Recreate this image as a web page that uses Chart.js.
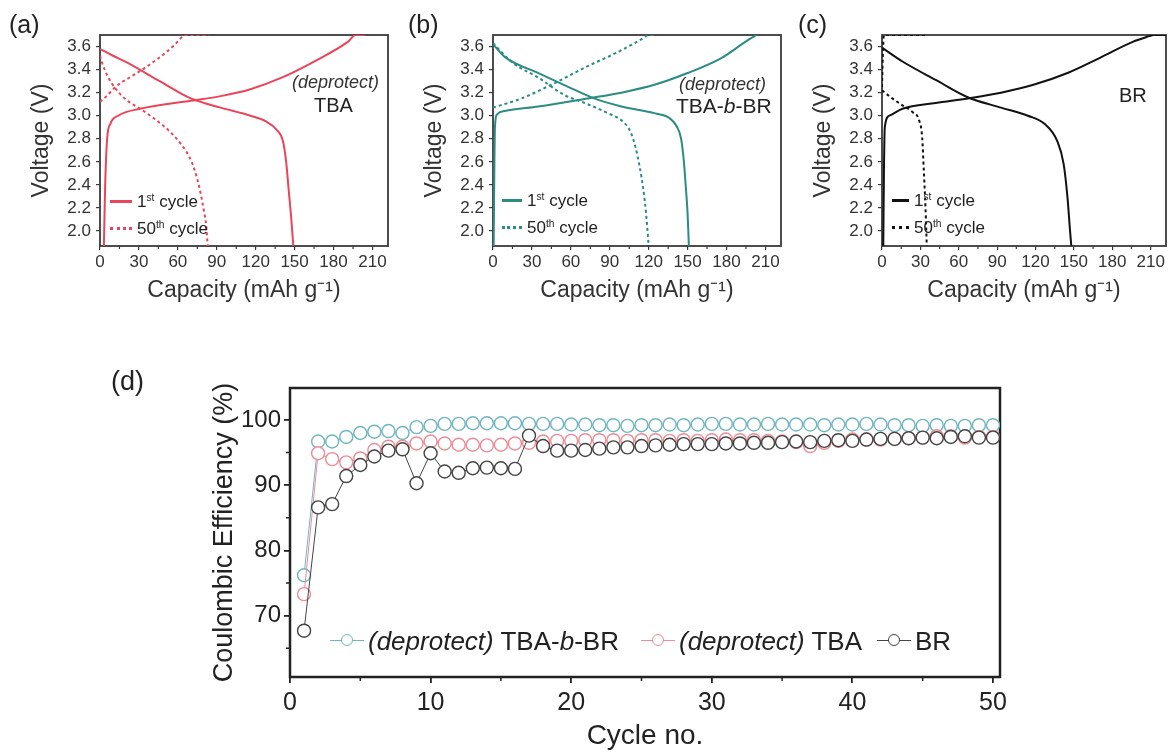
<!DOCTYPE html>
<html>
<head>
<meta charset="utf-8">
<script src="https://cdn.jsdelivr.net/npm/chart.js@4.4.0/dist/chart.umd.min.js"></script>
<style>
  body { margin: 0; background: #fff; width: 1170px; height: 753px; position: relative; overflow: hidden;
         font-family: "Liberation Sans", Arial, sans-serif; color: #222; }
  .box { position: absolute; }
  .lbl { position: absolute; white-space: nowrap; line-height: 1; }
  .lbl sup { font-size: 60%; vertical-align: 0.6em; }
  .seg { display: inline-block; width: 22px; height: 0; vertical-align: middle; margin-right: 5px; position: relative; top: -1px; }
  .mk { display: inline-block; position: relative; width: 34px; height: 14px; vertical-align: middle; margin-right: 4px; top: -2px; }
  .mk::before { content: ""; position: absolute; left: 0; right: 0; top: 6px; height: 1px; background: var(--c); }
  .mk::after { content: ""; position: absolute; left: 11px; top: 0; width: 10px; height: 10px; border: 1.5px solid var(--c);
               border-radius: 50%; background: #fff; }
</style>
</head>
<body>

<div class="box" style="left:0;top:0;width:392px;height:310px"><canvas id="chartA"></canvas></div>
<div class="box" style="left:393px;top:0;width:392px;height:310px"><canvas id="chartB"></canvas></div>
<div class="box" style="left:782px;top:0;width:388px;height:310px"><canvas id="chartC"></canvas></div>
<div class="box" style="left:0;top:360px;width:1170px;height:393px"><canvas id="chartD"></canvas></div>

<!-- panel letters -->
<div class="lbl" style="left:9px;top:12px;font-size:25px">(a)</div>
<div class="lbl" style="left:408px;top:12px;font-size:25px">(b)</div>
<div class="lbl" style="left:798px;top:12px;font-size:25px">(c)</div>
<div class="lbl" style="left:111px;top:368px;font-size:27px">(d)</div>

<!-- sample names -->
<div class="lbl" style="left:292px;top:73px;font-size:18px;font-style:italic;color:#333">(deprotect)</div>
<div class="lbl" style="left:314px;top:95px;font-size:20px">TBA</div>
<div class="lbl" style="left:679px;top:75px;font-size:18px;font-style:italic;color:#333">(deprotect)</div>
<div class="lbl" style="left:676px;top:95px;font-size:21px">TBA-<i>b</i>-BR</div>
<div class="lbl" style="left:1119px;top:85px;font-size:20px">BR</div>

<!-- cycle legends -->
<div class="lbl" style="left:110px;top:193px;font-size:17px"><span class="seg" style="border-top:3px solid #e8455a"></span>1<sup>st</sup> cycle</div>
<div class="lbl" style="left:110px;top:220px;font-size:17px"><span class="seg" style="border-top:3px dotted #e8455a"></span>50<sup>th</sup> cycle</div>
<div class="lbl" style="left:502px;top:192px;font-size:17px"><span class="seg" style="width:20px;border-top:3px solid #2a8c82"></span>1<sup>st</sup> cycle</div>
<div class="lbl" style="left:502px;top:219px;font-size:17px"><span class="seg" style="width:20px;border-top:3px dotted #2a8c82"></span>50<sup>th</sup> cycle</div>
<div class="lbl" style="left:892px;top:192px;font-size:17px"><span class="seg" style="width:17px;border-top:3px solid #111"></span>1<sup>st</sup> cycle</div>
<div class="lbl" style="left:892px;top:219px;font-size:17px"><span class="seg" style="width:17px;border-top:3px dotted #111"></span>50<sup>th</sup> cycle</div>

<!-- efficiency legend -->
<div class="lbl" style="left:330px;top:628px;font-size:26px"><span class="mk" style="--c:#6fb6c0"></span><i>(deprotect)</i> TBA-<i>b</i>-BR</div>
<div class="lbl" style="left:641px;top:628px;font-size:26px"><span class="mk" style="--c:#ec8c95"></span><i>(deprotect)</i> TBA</div>
<div class="lbl" style="left:877px;top:628px;font-size:26px"><span class="mk" style="--c:#444"></span>BR</div>

<script>
// voltage profiles, [capacity mAh/g, voltage V]
const tbaCharge1 = [[3,1.87],[4,2.4],[5.5,2.8],[8,2.93],[14,3.0],[31,3.06],[70,3.13],[93,3.17],[116,3.23],[140,3.33],[165,3.47],[191,3.64],[197,3.70],[204,3.70]];
const tbaDischarge1 = [[0,3.58],[10,3.52],[21,3.46],[46,3.30],[70,3.15],[93,3.07],[116,3.0],[128,2.95],[136,2.88],[141,2.78],[143.5,2.6],[145.5,2.35],[147.5,2.1],[149,1.87]];
const tbaCharge50 = [[0,3.12],[5,3.17],[13,3.26],[24,3.34],[34,3.41],[44,3.49],[52,3.56],[58,3.62],[63,3.68],[66,3.70],[84,3.70]];
const tbaDischarge50 = [[0,3.52],[1.3,3.47],[6,3.34],[11.6,3.24],[20,3.14],[31,3.06],[40,2.99],[47,2.93],[55,2.85],[62,2.76],[67,2.68],[71,2.59],[74.5,2.47],[77.5,2.33],[80,2.18],[82,2.03],[83,1.87]];

const tbbCharge1 = [[0.5,1.87],[1,2.5],[1.5,2.9],[3,3.01],[9,3.04],[35,3.08],[73,3.15],[99,3.20],[125,3.27],[150,3.37],[176,3.50],[197,3.66],[203,3.70]];
const tbbDischarge1 = [[0,3.62],[9,3.51],[35,3.37],[60,3.24],[78,3.15],[99,3.08],[125,3.02],[136,2.98],[142,2.9],[145,2.8],[147,2.62],[148.5,2.4],[150,2.15],[151,1.87]];
const tbbCharge50 = [[0,3.07],[22,3.15],[47,3.28],[73,3.43],[94,3.54],[114,3.66],[120,3.70],[124,3.70]];
const tbbDischarge50 = [[0,3.63],[15,3.46],[35,3.33],[55,3.18],[73,3.10],[89,3.02],[100,2.95],[106,2.86],[110,2.72],[113,2.56],[116,2.35],[118,2.15],[120,1.87]];

const brCharge1 = [[1,1.87],[1.5,2.5],[2.2,2.9],[5.7,3.0],[16,3.06],[42,3.11],[67,3.15],[93,3.20],[119,3.27],[145,3.37],[170,3.50],[196,3.64],[209,3.69],[212,3.70],[222,3.70]];
const brDischarge1 = [[0,3.59],[16,3.47],[42,3.31],[67,3.16],[93,3.07],[114,3.0],[127,2.93],[137,2.78],[142,2.58],[145,2.29],[147,2.0],[148,1.87]];
const brCharge50 = [[0,3.25],[0.6,3.5],[1.5,3.70],[34,3.70]];
const brDischarge50 = [[0,3.22],[8,3.15],[16,3.09],[24,3.03],[29,2.96],[31.4,2.81],[32.7,2.52],[34,2.2],[35,1.87]];

const capMinor = [15, 45, 75, 105, 135, 165, 195];

// coulombic efficiency (%) for cycles 1..50
const cycles = Array.from({ length: 50 }, (_, i) => i + 1);
const ceTbbBr = [76.2, 96.7, 96.7, 97.4, 98.0, 98.2, 98.3, 98.0, 98.9, 99.1, 99.4, 99.4, 99.5, 99.5, 99.5, 99.5, 99.4, 99.4, 99.4, 99.3,
                 99.3, 99.2, 99.2, 99.1, 99.2, 99.2, 99.3, 99.2, 99.3, 99.4, 99.4, 99.3, 99.3, 99.4, 99.3, 99.3, 99.3, 99.2, 99.3, 99.3,
                 99.4, 99.3, 99.2, 99.2, 99.1, 99.2, 99.1, 99.1, 99.2, 99.2];
const ceTba = [73.3, 94.9, 94.0, 93.5, 94.1, 95.4, 95.9, 95.9, 96.4, 96.7, 96.4, 96.2, 96.2, 96.1, 96.2, 96.4, 96.5, 96.7, 96.8, 96.8,
               96.9, 96.9, 96.9, 96.8, 96.9, 96.9, 96.8, 96.9, 96.8, 96.9, 97.0, 96.9, 96.9, 96.8, 96.7, 96.6, 96.0, 96.5, 96.8, 97.0,
               97.0, 97.0, 97.1, 97.2, 97.3, 97.5, 97.5, 97.3, 97.4, 97.4];
const ceBr = [67.7, 86.6, 87.1, 91.4, 93.1, 94.4, 95.3, 95.5, 90.3, 94.9, 92.1, 91.9, 92.6, 92.7, 92.6, 92.5, 97.6, 96.0, 95.3, 95.3,
              95.4, 95.6, 95.8, 95.8, 96.0, 96.1, 96.2, 96.3, 96.3, 96.3, 96.4, 96.4, 96.5, 96.5, 96.6, 96.7, 96.6, 96.8, 96.9, 96.8,
              97.0, 97.1, 97.1, 97.2, 97.3, 97.2, 97.4, 97.5, 97.3, 97.3];
const cycleMinor = [5, 15, 25, 35, 45];
const ceMinor = [65, 75, 85, 95];

const FONT = '"Liberation Sans", Arial, sans-serif';

// box round the plot area (under the curves) plus the small unlabeled ticks
const frameAndMinor = {
  id: 'frameAndMinor',
  beforeDatasetsDraw(chart, args, opts) {
    const { ctx, chartArea: a, scales: { x, y } } = chart;
    ctx.save();
    ctx.strokeStyle = opts.color;
    ctx.lineWidth = opts.minorWidth;
    ctx.beginPath();
    (opts.xMinor || []).forEach(v => {
      const px = x.getPixelForValue(v);
      ctx.moveTo(px, a.bottom); ctx.lineTo(px, a.bottom + opts.minorLen);
    });
    (opts.yMinor || []).forEach(v => {
      const py = y.getPixelForValue(v);
      ctx.moveTo(a.left, py); ctx.lineTo(a.left - opts.minorLen, py);
    });
    ctx.stroke();
    ctx.lineWidth = opts.width;
    ctx.strokeRect(a.left, a.top, a.right - a.left, a.bottom - a.top);
    ctx.restore();
  }
};

const pts = arr => arr.map(([x, y]) => ({ x, y }));

function profileChart(id, color, charge1, discharge1, charge50, discharge50) {
  const line = (data, dashed) => ({
    data: pts(data),
    showLine: true,
    borderColor: color,
    borderWidth: 2,
    borderDash: dashed ? [3, 3] : [],
    pointRadius: 0,
    cubicInterpolationMode: 'monotone'
  });
  new Chart(document.getElementById(id), {
    type: 'scatter',
    data: { datasets: [line(charge1), line(discharge1), line(charge50, true), line(discharge50, true)] },
    options: {
      responsive: true,
      maintainAspectRatio: false,
      animation: false,
      layout: { padding: { left: 28, top: 35, right: 4, bottom: 0 } },
      plugins: {
        legend: { display: false },
        tooltip: { enabled: false },
        frameAndMinor: { color: '#3a3a3a', width: 1.8, minorWidth: 1.2, minorLen: 3, xMinor: capMinor }
      },
      scales: {
        x: {
          type: 'linear', min: 0, max: 222,
          afterFit(s) { s.height = 64; },
          border: { display: false },
          grid: { drawOnChartArea: false, tickLength: 4, color: '#3a3a3a', lineWidth: 1.2 },
          ticks: { stepSize: 30, includeBounds: false, padding: 2, maxRotation: 0, color: '#333', font: { family: FONT, size: 17 } },
          title: { display: true, text: 'Capacity (mAh g\u207B\u00B9)', color: '#333', padding: { top: 0, bottom: 6 }, font: { family: FONT, size: 23 } }
        },
        y: {
          type: 'linear', min: 1.87, max: 3.70,
          afterFit(s) { s.width = 72; },
          border: { display: false },
          grid: { drawOnChartArea: false, tickLength: 4, color: '#3a3a3a', lineWidth: 1.2 },
          ticks: { stepSize: 0.2, includeBounds: false, padding: 5, color: '#333', font: { family: FONT, size: 17 },
                   callback: v => v.toFixed(1) },
          title: { display: true, text: 'Voltage (V)', color: '#333', padding: { top: 0, bottom: 0 }, font: { family: FONT, size: 23 } }
        }
      }
    },
    plugins: [frameAndMinor]
  });
}

profileChart('chartA', '#e8455a', tbaCharge1, tbaDischarge1, tbaCharge50, tbaDischarge50);
profileChart('chartB', '#2a8c82', tbbCharge1, tbbDischarge1, tbbCharge50, tbbDischarge50);
profileChart('chartC', '#111111', brCharge1, brDischarge1, brCharge50, brDischarge50);

// efficiency vs cycle number
const ceSet = (values, color, order) => ({
  data: cycles.map((c, i) => ({ x: c, y: values[i] })),
  showLine: true,
  borderColor: color,
  borderWidth: 1,
  pointRadius: 6.5,
  pointBorderWidth: 1.4,
  pointBorderColor: color,
  pointBackgroundColor: '#fff',
  order
});

new Chart(document.getElementById('chartD'), {
  type: 'scatter',
  data: {
    datasets: [
      ceSet(ceTbbBr, '#6fb6c0', 2),
      ceSet(ceTba, '#ec8c95', 1),
      ceSet(ceBr, '#444444', 0)
    ]
  },
  options: {
    responsive: true,
    maintainAspectRatio: false,
    animation: false,
    layout: { padding: { left: 208, top: 28, right: 170, bottom: 0 } },
    plugins: {
      legend: { display: false },
      tooltip: { enabled: false },
      frameAndMinor: { color: '#222', width: 2.5, minorWidth: 1.5, minorLen: 4, xMinor: cycleMinor, yMinor: ceMinor }
    },
    scales: {
      x: {
        type: 'linear', min: 0, max: 50.5,
        afterFit(s) { s.height = 76; },
        border: { display: false },
        grid: { drawOnChartArea: false, tickLength: 6, color: '#222', lineWidth: 1.8 },
        ticks: { stepSize: 10, includeBounds: false, padding: 5, maxRotation: 0, color: '#222', font: { family: FONT, size: 25 } },
        title: { display: true, text: 'Cycle no.', color: '#222', padding: { top: 0, bottom: 0 }, font: { family: FONT, size: 28 } }
      },
      y: {
        type: 'linear', min: 60.6, max: 104.9,
        afterFit(s) { s.width = 82; },
        border: { display: false },
        grid: { drawOnChartArea: false, tickLength: 6, color: '#222', lineWidth: 1.8 },
        ticks: { stepSize: 10, includeBounds: false, padding: 3, color: '#222', font: { family: FONT, size: 24 } },
        title: { display: true, text: 'Coulombic Efficiency (%)', color: '#222', padding: { top: 0, bottom: 0 }, font: { family: FONT, size: 27 } }
      }
    }
  },
  plugins: [frameAndMinor]
});
</script>
</body>
</html>
